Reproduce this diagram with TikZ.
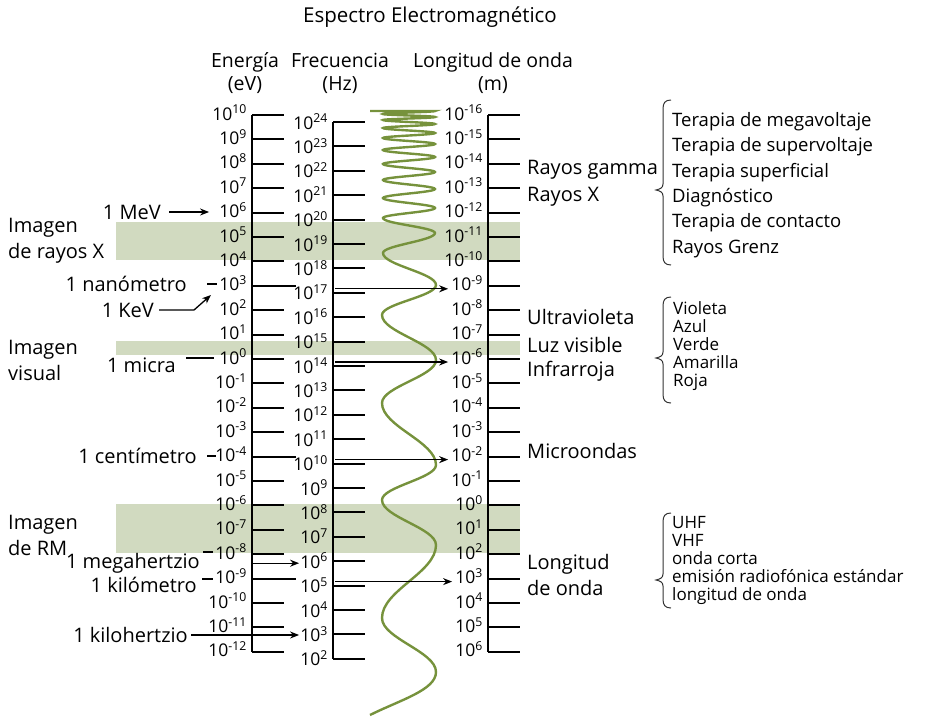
\documentclass[tikz,border=0pt]{standalone}
\usepackage{fontspec}
\setmainfont{Open Sans}
\usetikzlibrary{arrows.meta, calc}

\definecolor{wavegreen}{RGB}{118,146,60}
\definecolor{bandgreen}{RGB}{209,218,192}

\newcommand{\pw}[1]{10\textsuperscript{#1}}
% brace: top, tip, bottom
\newcommand{\specbrace}[3]{%
  \draw[brace line] (671,#1) .. controls (665,#1) and (663,#1+3) .. (663,#1+9)
    -- (663,#2-6) .. controls (663,#2-2) and (660,#2-1) .. (656,#2)
    .. controls (660,#2+1) and (663,#2+2) .. (663,#2+6)
    -- (663,#3-9) .. controls (663,#3-3) and (665,#3) .. (671,#3);}

\begin{document}
\begin{tikzpicture}[x=1pt, y=-1pt,
    % Define the styles
    scale line/.style={line width=2pt},
    tick line/.style={line width=2pt},
    dash line/.style={line width=1.5pt},
    tick label/.style={font=\fontsize{17.5}{19}\selectfont, inner sep=0pt, anchor=base east},
    lbl/.style={font=\fontsize{20}{23}\selectfont, inner sep=0pt},
    head/.style={font=\fontsize{19.5}{23}\selectfont, inner sep=0pt, align=center},
    side/.style={font=\fontsize{20}{26}\selectfont, inner sep=0pt, align=left, anchor=west},
    item/.style={font=\fontsize{17}{18}\selectfont, inner sep=0pt, align=left, anchor=west},
    band/.style={fill=bandgreen},
    wave/.style={draw=wavegreen, line width=2.4pt},
    arr/.style={-{Stealth[length=9pt,width=7pt]}, line width=1.3pt},
    brace line/.style={line width=1pt, black!80}
]
\useasboundingbox (0,0) rectangle (926,718);

% Bands
\fill[band] (116,222) rectangle (520,260);
\fill[band] (116,341) rectangle (520,355);
\fill[band] (116,504) rectangle (520,553);

% The wave
\draw[wave] (370,111) -- (435,111)
  \foreach \y/\x [remember=\y as \ly (initially 111), remember=\x as \lx (initially 435)] in
  {114/383, 117/435, 120/383, 124/435, 128/383, 133/435, 138/383, 144/435,
   150/383, 157/435, 164/383, 172/435, 180/383, 189/435, 198/383, 208/435,
   218/383, 233/435, 253/383, 285/436, 315/382, 360/436, 403/382, 465/436,
   500/382, 545/436, 618/382, 672/436}
  { .. controls (\lx,{\ly+0.38*(\y-\ly)}) and (\x,{\y-0.38*(\y-\ly)}) .. (\x,\y) }
  .. controls (436,690) and (400,700) .. (370,715);

% Title and headers
\node[head, font=\fontsize{20.5}{23}\selectfont] (title) at (430,17) {Espectro Electromagnético};
\node[head] (hE) at (245,73) {Energía\\(eV)};
\node[head] (hF) at (340,73) {Frecuencia\\(Hz)};
\node[head] (hW) at (493,73) {Longitud de onda\\(m)};

% Energy scale
\draw[scale line] (252,115) -- (252,652);
\foreach \e [count=\i from 0] in {10,9,...,-12} {
  \draw[tick line] (252,115+24.4*\i) -- ++(32,0);
  \node[tick label] (e\i) at (247,120+24.4*\i) {\pw{\e}};
}
\foreach \i in {7,14,19}
  \draw[tick line] (284,115+24.4*\i) -- ++(12,0);

% Frequency scale
\draw[scale line] (333,122) -- (333,659);
\foreach \f [count=\i from 0] in {24,23,...,2} {
  \draw[tick line] (333,122+24.4*\i) -- ++(32,0);
  \node[tick label] (f\i) at (328,129+24.4*\i) {\pw{\f}};
}

% Wavelength scale
\draw[scale line] (488,115) -- (488,652);
\foreach \w [count=\i from 0] in {-16,-15,...,6} {
  \draw[tick line] (488,115+24.4*\i) -- ++(32,0);
  \node[tick label] (w\i) at (483,120+24.4*\i) {\pw{\w}};
}

\coordinate (eline) at (253,0);
\coordinate (fline) at (335,0);

% Left labels
\node[side] (xray) at (8,241) {Imagen\\de rayos X};
\node[side] (visual) at (8,360) {Imagen\\visual};
\node[side] (mri) at (8,535) {Imagen\\de RM};

\node[lbl, anchor=east] (mev) at (161,212) {1 MeV};
\node[lbl, anchor=east] (nm) at (187,284) {1 nanómetro};
\node[lbl, anchor=east] (kev) at (154,310) {1 KeV};
\node[lbl, anchor=east] (micra) at (176,365) {1 micra};
\node[lbl, anchor=east] (cm) at (197,456) {1 centímetro};
\node[lbl, anchor=east] (mhz) at (200,563) {1 megahertzio};
\node[lbl, anchor=east] (km) at (197,585) {1 kilómetro};
\node[lbl, anchor=east] (khz) at (188,635) {1 kilohertzio};

% Right labels
\node[lbl, anchor=west] (gamma) at (527,170) {Rayos gamma};
\node[lbl, anchor=west] (xrays) at (527,197) {Rayos X};
\node[lbl, anchor=west] (uv) at (527,317) {Ultravioleta};
\node[lbl, anchor=west] (vis) at (527,345) {Luz visible};
\node[lbl, anchor=west] (ir) at (527,371) {Infrarroja};
\node[lbl, anchor=west] (micro) at (527,451) {Microondas};
\node[lbl, anchor=west, align=left, font=\fontsize{20}{26}\selectfont] (radio) at (527,575) {Longitud\\de onda};

% Braces and lists
\specbrace{100}{190}{265}
\specbrace{297}{358}{403}
\specbrace{513}{580}{608}
\node[item, font=\fontsize{18.5}{25.3}\selectfont] (therapy) at (672,185)
  {Terapia de megavoltaje\\Terapia de supervoltaje\\Terapia superficial\\Diagnóstico\\Terapia de contacto\\Rayos Grenz};
\node[item] (colors) at (673,346) {Violeta\\Azul\\Verde\\Amarilla\\Roja};
\node[item] (bands) at (672,560) {UHF\\VHF\\onda corta\\emisión radiofónica estándar\\longitud de onda};

% Connectors on the left
\draw[arr] ([xshift=8pt]mev.east) -- ([xshift=-10pt]mev.east -| e4.west);
\draw[arr] ([xshift=5pt]kev.east) -- ++(35,0) -- ++(17,-15);
\draw[dash line] ([xshift=20pt]nm.east) -- ++(10,0);
\draw[dash line] ([xshift=10pt,yshift=7pt]micra.east) -- ++(28,0);
\draw[dash line] ([xshift=10pt]cm.east) -- ++(9,0);
\draw[dash line] ([xshift=3pt,yshift=11pt]mhz.east) -- ++(10,0);
\draw[dash line] ([xshift=5pt,yshift=6pt]km.east) -- ++(11,0);
\draw[arr] ([yshift=5pt]f18.base west -| eline) -- ([yshift=5pt,xshift=-1pt]f18.base west);
\draw[arr] ([xshift=3pt]khz.east) -- ([xshift=-1pt]khz.east -| f21.west);

% Arrows from frequency to wavelength
\foreach \i in {7,10,14,19}
  \draw[arr] ([yshift=2pt]w\i.base west -| fline) -- ([yshift=2pt,xshift=-3pt]w\i.base west);

\end{tikzpicture}
\end{document}
